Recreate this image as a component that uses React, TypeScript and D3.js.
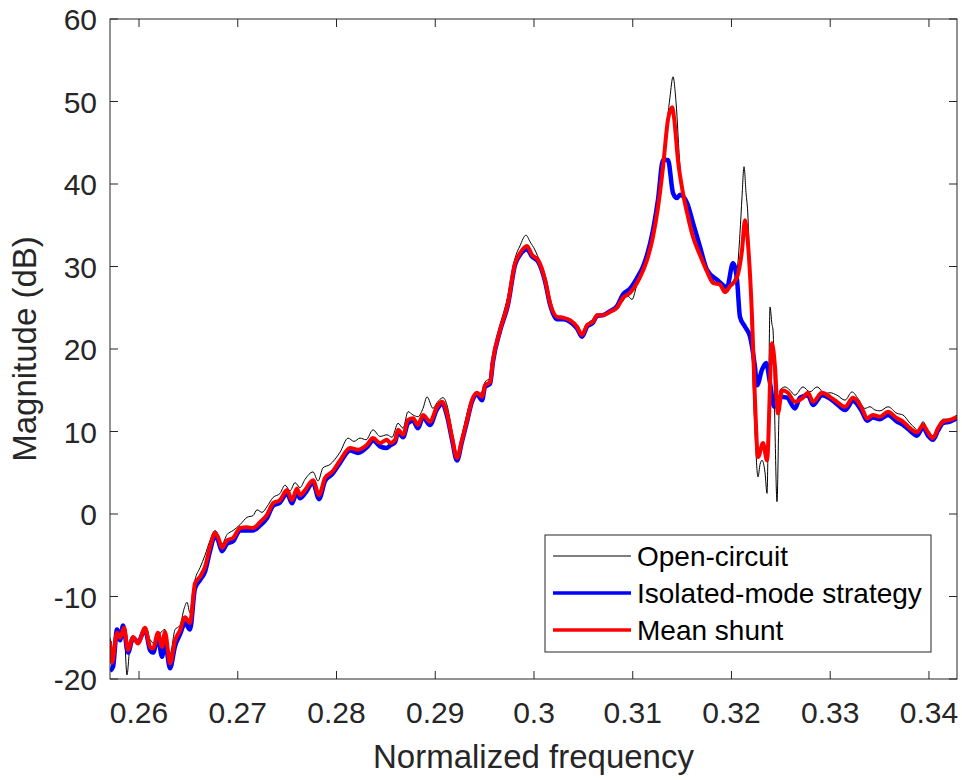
import React, { useEffect, useRef } from 'react';
import * as d3 from 'd3';

// [normalized frequency, magnitude dB]
const openCircuit: [number, number][] = [
  [0.25706, -15.0], [0.25737, -16.5], [0.25777, -14.0], [0.25808, -15.5], [0.25848, -14.2], [0.25878, -19.5],
  [0.25909, -16.0], [0.25939, -15.5], [0.2599, -15.3], [0.26061, -14.0], [0.26111, -15.2], [0.26162, -15.8],
  [0.26213, -14.5], [0.26263, -14.0], [0.26314, -17.0], [0.26365, -14.0], [0.26415, -13.5], [0.26456, -11.5],
  [0.26486, -10.7], [0.26516, -12.0], [0.26567, -8.0], [0.26618, -6.5], [0.26668, -5.0], [0.26719, -3.2],
  [0.2677, -2.0], [0.268, -2.5], [0.26841, -3.6], [0.26891, -2.5], [0.26952, -2.0], [0.27023, -1.3],
  [0.27094, -0.4], [0.27154, -0.2], [0.27195, 0.5], [0.27246, 0.2], [0.27296, 0.9], [0.27357, 2.0],
  [0.27428, 2.5], [0.27479, 3.5], [0.27529, 2.8], [0.2758, 3.8], [0.2763, 3.2], [0.27681, 4.2],
  [0.27762, 5.1], [0.27813, 4.0], [0.27863, 5.6], [0.27934, 6.0], [0.28036, 7.5], [0.28117, 9.2],
  [0.28177, 8.8], [0.28238, 9.2], [0.28299, 9.0], [0.2837, 10.2], [0.28441, 9.4], [0.28511, 9.6],
  [0.28562, 9.3], [0.28623, 11.0], [0.28674, 10.4], [0.28724, 12.4], [0.28775, 12.0], [0.28825, 11.8],
  [0.28876, 12.8], [0.28917, 14.2], [0.28977, 12.8], [0.29018, 13.5], [0.29079, 14.1], [0.29119, 13.2],
  [0.2917, 10.0], [0.2922, 7.0], [0.29271, 9.5], [0.29322, 12.2], [0.29372, 14.0], [0.29423, 14.5],
  [0.29474, 14.8], [0.29504, 16.0], [0.29555, 16.5], [0.29585, 19.0], [0.29656, 22.8], [0.29737, 26.5],
  [0.29808, 31.0], [0.29858, 32.5], [0.29919, 33.8], [0.2996, 33.0], [0.3001, 32.0], [0.30061, 30.5],
  [0.30112, 28.6], [0.30162, 25.8], [0.30233, 24.0], [0.30294, 23.8], [0.30365, 23.4], [0.30436, 22.8],
  [0.30486, 21.8], [0.30537, 23.0], [0.30598, 23.6], [0.30638, 24.0], [0.30699, 24.0], [0.3077, 24.6],
  [0.30841, 25.2], [0.30901, 25.8], [0.30942, 26.5], [0.30993, 26.0], [0.31043, 27.8], [0.31104, 29.5],
  [0.31175, 32.0], [0.31226, 35.0], [0.31276, 39.5], [0.31327, 45.0], [0.31377, 50.5], [0.31408, 53.0],
  [0.31438, 50.0], [0.31479, 42.0], [0.31529, 37.5], [0.3158, 35.0], [0.31631, 33.0], [0.31681, 31.2],
  [0.31752, 29.2], [0.31803, 28.5], [0.31864, 27.8], [0.31904, 27.6], [0.31955, 27.2], [0.32005, 28.0],
  [0.32056, 29.5], [0.32086, 34.0], [0.32107, 38.5], [0.32127, 42.1], [0.32147, 39.0], [0.32167, 36.0],
  [0.32188, 28.0], [0.32208, 19.9], [0.32238, 10.0], [0.32269, 4.5], [0.32289, 6.0], [0.32309, 6.5],
  [0.3234, 5.0], [0.3236, 2.5], [0.3238, 18.0], [0.3239, 25.1], [0.3241, 23.0], [0.32421, 22.3],
  [0.32441, 10.0], [0.32461, 1.5], [0.32481, 12.0], [0.32491, 15.0], [0.32542, 15.4], [0.32593, 15.0],
  [0.32643, 14.4], [0.32724, 15.4], [0.32795, 14.8], [0.32866, 15.4], [0.32947, 14.6], [0.32998, 14.7],
  [0.33069, 14.4], [0.3315, 13.8], [0.33221, 14.8], [0.33281, 14.0], [0.33352, 12.8], [0.33403, 13.0],
  [0.33454, 12.6], [0.33504, 12.5], [0.33585, 13.0], [0.33676, 12.2], [0.33737, 12.0], [0.33808, 11.0],
  [0.33859, 10.4], [0.33889, 10.0], [0.3394, 11.2], [0.3399, 10.0], [0.34041, 9.5], [0.34091, 10.6],
  [0.34142, 11.5], [0.34213, 11.5], [0.34284, 12.0],
];

const isolatedMode: [number, number][] = [
  [0.25706, -19.0], [0.25737, -18.5], [0.25777, -14.0], [0.25808, -15.3], [0.25838, -13.5], [0.25889, -16.8],
  [0.25939, -15.0], [0.2599, -15.5], [0.26061, -14.0], [0.26111, -16.5], [0.26142, -16.8], [0.26192, -15.0],
  [0.26233, -17.3], [0.26263, -15.5], [0.26314, -18.7], [0.26365, -16.0], [0.26415, -14.6], [0.26466, -13.2],
  [0.26516, -14.0], [0.26567, -9.0], [0.26618, -8.0], [0.26668, -7.0], [0.26719, -4.5], [0.2677, -2.6],
  [0.268, -3.2], [0.26841, -4.5], [0.26891, -3.6], [0.26952, -3.3], [0.27023, -2.0], [0.27094, -2.0],
  [0.27154, -2.0], [0.27225, -1.4], [0.27296, -0.5], [0.27357, 1.0], [0.27428, 1.4], [0.27499, 2.5],
  [0.27549, 1.3], [0.276, 2.7], [0.2763, 1.9], [0.27681, 2.5], [0.27762, 3.8], [0.27823, 1.8],
  [0.27884, 4.0], [0.27955, 4.8], [0.28036, 6.2], [0.28137, 7.7], [0.28218, 7.4], [0.28309, 8.1],
  [0.2837, 8.9], [0.28441, 8.2], [0.28511, 8.0], [0.28542, 8.3], [0.28593, 8.7], [0.28623, 9.9],
  [0.28674, 9.3], [0.28724, 11.0], [0.28775, 11.3], [0.28825, 10.4], [0.28876, 11.7], [0.28947, 10.8],
  [0.29018, 12.7], [0.29068, 13.3], [0.29119, 11.9], [0.2917, 9.0], [0.2922, 6.5], [0.29271, 8.8],
  [0.29322, 11.2], [0.29372, 13.6], [0.29423, 14.5], [0.29474, 13.8], [0.29504, 15.4], [0.29555, 15.8],
  [0.29585, 18.5], [0.29656, 22.2], [0.29737, 25.4], [0.29808, 30.2], [0.29858, 31.4], [0.29929, 32.1],
  [0.2998, 31.2], [0.30041, 30.6], [0.30112, 28.2], [0.30162, 25.4], [0.30233, 23.6], [0.30294, 23.6],
  [0.30365, 23.3], [0.30436, 22.5], [0.30486, 21.5], [0.30537, 22.7], [0.30598, 23.2], [0.30638, 24.0],
  [0.30699, 24.1], [0.3077, 24.6], [0.30841, 25.2], [0.30901, 26.6], [0.30972, 27.3], [0.31043, 28.6],
  [0.31104, 30.0], [0.31145, 31.4], [0.31205, 34.4], [0.31256, 38.1], [0.31307, 42.9], [0.31357, 42.9],
  [0.31408, 38.9], [0.31448, 38.3], [0.31479, 38.7], [0.3155, 37.7], [0.3161, 35.3], [0.31681, 32.4],
  [0.31752, 29.6], [0.31853, 28.4], [0.31955, 27.5], [0.32015, 30.4], [0.32056, 28.4], [0.32086, 23.9],
  [0.32137, 22.7], [0.32188, 21.5], [0.32238, 17.8], [0.32259, 15.6], [0.32309, 17.5], [0.3235, 18.3],
  [0.3239, 15.9], [0.32431, 13.0], [0.32491, 14.2], [0.32562, 14.1], [0.32643, 12.8], [0.32694, 14.1],
  [0.32775, 14.4], [0.32826, 13.2], [0.32917, 14.4], [0.32998, 14.0], [0.33069, 13.3], [0.3315, 12.6],
  [0.33231, 13.7], [0.33322, 12.4], [0.33373, 11.3], [0.33433, 11.7], [0.33504, 11.5], [0.33585, 12.0],
  [0.33676, 11.2], [0.33737, 10.8], [0.33808, 10.1], [0.33879, 9.5], [0.3394, 10.5], [0.3399, 9.5],
  [0.34041, 9.0], [0.34091, 10.1], [0.34142, 11.0], [0.34213, 11.2], [0.34284, 11.6],
];

const meanShunt: [number, number][] = [
  [0.25706, -15.4], [0.25727, -18.0], [0.25777, -14.4], [0.25808, -15.0], [0.25848, -13.8], [0.25889, -16.5],
  [0.25939, -14.9], [0.2599, -15.7], [0.26061, -13.8], [0.26111, -16.1], [0.26142, -16.3], [0.26192, -14.4],
  [0.26233, -16.1], [0.26263, -14.3], [0.26314, -18.1], [0.26365, -15.3], [0.26415, -14.1], [0.26466, -12.5],
  [0.26516, -13.2], [0.26567, -8.4], [0.26618, -7.6], [0.26668, -6.4], [0.26719, -4.0], [0.2677, -2.3],
  [0.268, -2.8], [0.26841, -4.1], [0.26891, -3.2], [0.26952, -2.9], [0.27023, -1.7], [0.27094, -1.6],
  [0.27154, -1.7], [0.27225, -1.0], [0.27296, -0.1], [0.27357, 1.3], [0.27428, 1.7], [0.27499, 2.9],
  [0.27549, 1.7], [0.276, 3.1], [0.2763, 2.3], [0.27681, 2.9], [0.27762, 4.1], [0.27823, 2.3],
  [0.27884, 4.4], [0.27955, 5.1], [0.28036, 6.5], [0.28137, 8.0], [0.28218, 7.8], [0.28309, 8.4],
  [0.2837, 9.2], [0.28441, 8.6], [0.28511, 9.0], [0.28542, 8.6], [0.28593, 9.0], [0.28623, 10.2],
  [0.28674, 9.6], [0.28724, 11.4], [0.28775, 11.6], [0.28825, 10.8], [0.28876, 12.0], [0.28947, 11.2],
  [0.29018, 13.0], [0.29068, 13.6], [0.29119, 12.2], [0.2917, 9.3], [0.2922, 6.8], [0.29271, 9.0],
  [0.29322, 11.4], [0.29372, 13.8], [0.29423, 14.7], [0.29474, 14.2], [0.29504, 15.6], [0.29555, 16.0],
  [0.29585, 18.7], [0.29656, 22.3], [0.29737, 25.6], [0.29808, 30.4], [0.29858, 31.6], [0.29929, 32.5],
  [0.2998, 31.4], [0.30041, 30.8], [0.30112, 28.4], [0.30162, 25.6], [0.30233, 23.9], [0.30294, 23.8],
  [0.30365, 23.5], [0.30436, 22.7], [0.30486, 21.7], [0.30537, 22.9], [0.30598, 23.3], [0.30638, 24.1],
  [0.30699, 24.1], [0.3077, 24.5], [0.30841, 25.0], [0.30901, 26.2], [0.30972, 26.8], [0.31043, 28.0],
  [0.31074, 28.7], [0.31145, 30.8], [0.31205, 33.6], [0.31256, 37.2], [0.31307, 42.1], [0.31357, 47.8],
  [0.31398, 49.3], [0.31418, 48.1], [0.31458, 42.9], [0.31509, 38.9], [0.3156, 36.0], [0.3161, 33.6],
  [0.31681, 31.4], [0.31752, 29.4], [0.31813, 28.0], [0.31884, 27.8], [0.31934, 26.9], [0.31985, 27.6],
  [0.32056, 28.7], [0.32107, 32.0], [0.32137, 35.6], [0.32167, 32.8], [0.32208, 23.9], [0.32238, 13.8],
  [0.32269, 6.9], [0.32319, 8.6], [0.3236, 6.5], [0.3241, 20.7], [0.32441, 17.8], [0.32471, 12.2],
  [0.32512, 15.0], [0.32572, 14.7], [0.32643, 13.6], [0.32724, 14.1], [0.32775, 14.7], [0.32826, 13.6],
  [0.32917, 14.7], [0.32998, 14.2], [0.33069, 13.6], [0.3315, 13.0], [0.33231, 14.1], [0.33322, 12.8],
  [0.33373, 11.6], [0.33433, 12.0], [0.33504, 11.8], [0.33585, 12.4], [0.33676, 11.6], [0.33737, 11.2],
  [0.33808, 10.4], [0.33879, 9.9], [0.3394, 10.8], [0.3399, 9.9], [0.34041, 9.2], [0.34091, 10.4],
  [0.34142, 11.2], [0.34213, 11.4], [0.34284, 11.8],
];

const xTicks = [0.26, 0.27, 0.28, 0.29, 0.3, 0.31, 0.32, 0.33, 0.34];
const yTicks = [-20, -10, 0, 10, 20, 30, 40, 50, 60];
const xDomain: [number, number] = [0.25706, 0.34284];
const yDomain: [number, number] = [-20, 60];

const series = [
  { name: 'Open-circuit', data: openCircuit, color: '#000000', width: 1 },
  { name: 'Isolated-mode strategy', data: isolatedMode, color: '#0000ff', width: 4.5 },
  { name: 'Mean shunt', data: meanShunt, color: '#ff0000', width: 4 },
];

const FONT = '"Liberation Sans", Arial, Helvetica, sans-serif';
const AXIS = '#262626';

const App: React.FC = () => {
  const svgRef = useRef<SVGSVGElement>(null);
  const width = 962;
  const height = 780;

  useEffect(() => {
    const svg = d3.select(svgRef.current);
    svg.selectAll('*').remove();

    const margin = { top: 19, right: 5, bottom: 101, left: 110 };
    const innerWidth = width - margin.left - margin.right;
    const innerHeight = height - margin.top - margin.bottom;

    const x = d3.scaleLinear().domain(xDomain).range([0, innerWidth]);
    const y = d3.scaleLinear().domain(yDomain).range([innerHeight, 0]);

    svg.append('rect').attr('width', width).attr('height', height).attr('fill', '#fff');

    const g = svg.append('g').attr('transform', `translate(${margin.left},${margin.top})`);

    g.append('defs')
      .append('clipPath')
      .attr('id', 'plot-clip')
      .append('rect')
      .attr('width', innerWidth)
      .attr('height', innerHeight);

    // Lines
    const line = d3.line<[number, number]>()
      .x(d => x(d[0]))
      .y(d => y(d[1]))
      .curve(d3.curveMonotoneX);

    const lines = g.append('g').attr('clip-path', 'url(#plot-clip)');
    series.forEach(s => {
      lines.append('path')
        .datum(s.data)
        .attr('d', line)
        .attr('fill', 'none')
        .attr('stroke', s.color)
        .attr('stroke-width', s.width)
        .attr('stroke-linejoin', 'round');
    });

    // Box
    g.append('rect')
      .attr('width', innerWidth)
      .attr('height', innerHeight)
      .attr('fill', 'none')
      .attr('stroke', AXIS)
      .attr('stroke-width', 1);

    const tickLen = 8;
    // X ticks (bottom and top)
    xTicks.forEach(t => {
      const px = x(t);
      g.append('line').attr('x1', px).attr('x2', px).attr('y1', innerHeight).attr('y2', innerHeight - tickLen)
        .attr('stroke', AXIS);
      g.append('line').attr('x1', px).attr('x2', px).attr('y1', 0).attr('y2', tickLen)
        .attr('stroke', AXIS);
      g.append('text')
        .attr('x', px)
        .attr('y', innerHeight + 44)
        .attr('text-anchor', 'middle')
        .attr('font-family', FONT)
        .attr('font-size', 30)
        .attr('fill', AXIS)
        .text(String(Math.round(t * 100) / 100));
    });

    // Y ticks (left and right)
    yTicks.forEach(t => {
      const py = y(t);
      g.append('line').attr('x1', 0).attr('x2', tickLen).attr('y1', py).attr('y2', py).attr('stroke', AXIS);
      g.append('line').attr('x1', innerWidth).attr('x2', innerWidth - tickLen).attr('y1', py).attr('y2', py)
        .attr('stroke', AXIS);
      g.append('text')
        .attr('x', -13)
        .attr('y', py + 11)
        .attr('text-anchor', 'end')
        .attr('font-family', FONT)
        .attr('font-size', 30)
        .attr('fill', AXIS)
        .text(String(t));
    });

    // Axis labels
    svg.append('text')
      .attr('x', margin.left + innerWidth / 2)
      .attr('y', 768)
      .attr('text-anchor', 'middle')
      .attr('font-family', FONT)
      .attr('font-size', 33)
      .attr('fill', AXIS)
      .text('Normalized frequency');

    svg.append('text')
      .attr('transform', `translate(36,${margin.top + innerHeight / 2}) rotate(-90)`)
      .attr('text-anchor', 'middle')
      .attr('font-family', FONT)
      .attr('font-size', 33)
      .attr('fill', AXIS)
      .text('Magnitude (dB)');

    // Legend
    const legend = svg.append('g').attr('transform', 'translate(545,535)');
    legend.append('rect')
      .attr('width', 386)
      .attr('height', 117)
      .attr('fill', '#fff')
      .attr('stroke', AXIS)
      .attr('stroke-width', 1);
    series.forEach((s, i) => {
      const ly = 21 + i * 37;
      legend.append('line')
        .attr('x1', 8).attr('x2', 86)
        .attr('y1', ly).attr('y2', ly)
        .attr('stroke', s.color)
        .attr('stroke-width', s.width === 1 ? 1 : 3.5);
      legend.append('text')
        .attr('x', 92)
        .attr('y', ly + 10)
        .attr('font-family', FONT)
        .attr('font-size', 28)
        .attr('fill', '#000')
        .text(s.name);
    });
  }, []);

  return (
    <svg
      ref={svgRef}
      width={width}
      height={height}
      style={{ position: 'absolute', left: 0, top: 0, display: 'block' }}
    />
  );
};

export default App;
